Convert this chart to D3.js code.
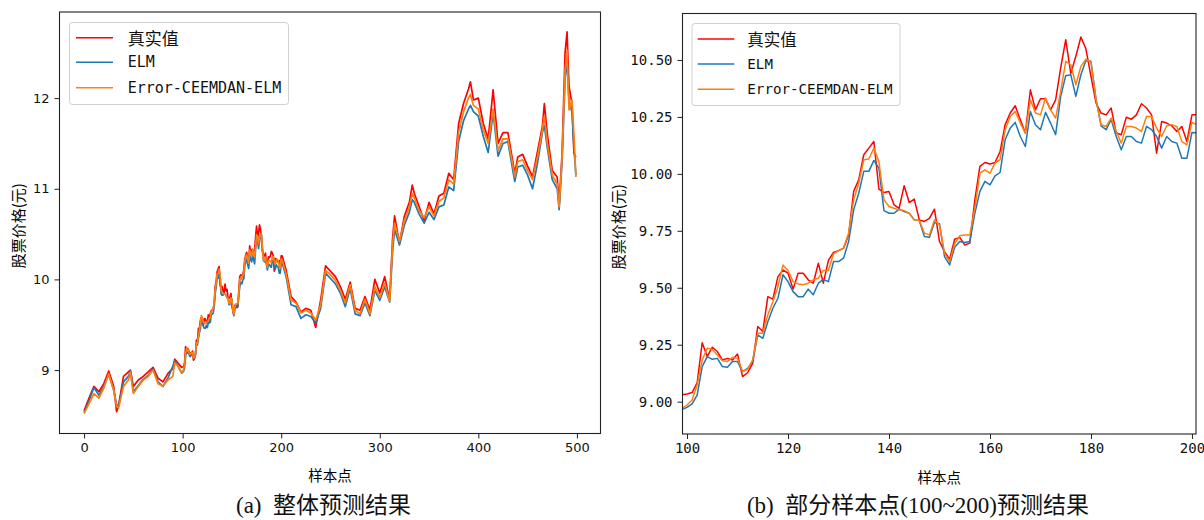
<!DOCTYPE html>
<html>
<head>
<meta charset="utf-8">
<script src="https://cdn.jsdelivr.net/npm/d3@7"></script>
<style>
  body { margin: 0; background: #fff; }
  svg text { white-space: pre; }
</style>
</head>
<body>
<div id="chart"></div>
<script>
// ---- data ----
var seriesNames = ["真实值", "ELM", "Error-CEEMDAN-ELM"];
var seriesColors = ["#ff0000", "#1f77b4", "#ff7f0e"];

// samples 0..95 (overall panel, coarse)
var headIdx = [0,5,10,15,20,25,30,33,35,40,45,47,50,55,60,65,70,75,80,85,90,92,95];
var realHead = [8.55,8.69,8.82,8.76,8.85,8.99,8.82,8.54,8.61,8.93,8.98,9.00,8.82,8.89,8.93,8.98,9.03,8.91,8.87,8.96,9.02,9.12,9.08];
var elmHead  = [8.53,8.66,8.81,8.72,8.82,8.95,8.78,8.62,8.60,8.87,8.93,8.99,8.76,8.83,8.90,8.94,9.01,8.87,8.82,8.91,9.04,9.10,9.05];
var errHead  = [8.52,8.63,8.74,8.69,8.80,8.96,8.78,8.60,8.58,8.82,8.89,8.98,8.74,8.82,8.89,8.93,9.00,8.85,8.82,8.89,8.93,9.08,9.05];

// samples 99..201 (zoomed panel, every point)
var partStart = 99;
var realPart = [9.030,9.034,9.040,9.083,9.259,9.198,9.239,9.220,9.183,9.190,9.183,9.209,9.110,9.127,9.168,9.330,9.308,9.461,9.450,9.549,
  9.578,9.564,9.494,9.564,9.564,9.535,9.520,9.608,9.520,9.620,9.655,9.663,9.674,9.732,9.923,9.974,10.084,10.113,10.142,9.933,
  9.918,9.923,9.864,9.849,9.948,9.874,9.889,9.798,9.791,9.805,9.845,9.703,9.659,9.625,9.713,9.721,9.688,9.696,9.886,10.033,
  10.050,10.043,10.050,10.098,10.216,10.267,10.299,10.238,10.179,10.369,10.281,10.330,10.330,10.281,10.325,10.465,10.589,10.440,10.516,10.601,
  10.548,10.428,10.311,10.267,10.259,10.289,10.179,10.172,10.249,10.240,10.259,10.308,10.289,10.259,10.091,10.230,10.223,10.211,10.186,10.208,
  10.142,10.259,10.259];
var elmPart = [8.965,8.975,8.990,9.029,9.154,9.198,9.186,9.190,9.154,9.151,9.176,9.176,9.132,9.146,9.176,9.293,9.278,9.351,9.410,9.454,
  9.557,9.527,9.483,9.461,9.461,9.494,9.469,9.520,9.537,9.527,9.615,9.615,9.630,9.703,9.842,9.915,10.011,10.011,10.059,10.025,
  9.839,9.827,9.827,9.845,9.835,9.827,9.798,9.795,9.725,9.722,9.786,9.781,9.637,9.600,9.678,9.703,9.699,9.703,9.827,9.923,
  9.967,9.952,9.991,10.006,10.150,10.201,10.226,10.164,10.120,10.274,10.216,10.194,10.270,10.223,10.172,10.340,10.431,10.435,10.340,10.435,
  10.498,10.494,10.328,10.211,10.194,10.238,10.164,10.106,10.164,10.164,10.142,10.135,10.208,10.194,10.164,10.113,10.164,10.142,10.135,10.069,
  10.069,10.182,10.180];
var errPart = [8.970,8.985,9.007,9.073,9.183,9.234,9.230,9.205,9.180,9.176,9.195,9.190,9.132,9.142,9.183,9.300,9.300,9.381,9.439,9.505,
  9.600,9.576,9.527,9.517,9.513,9.520,9.535,9.542,9.576,9.576,9.649,9.663,9.674,9.740,9.886,9.959,10.062,10.065,10.113,10.054,
  9.886,9.857,9.849,9.842,9.839,9.827,9.798,9.795,9.740,9.732,9.798,9.776,9.652,9.615,9.693,9.728,9.732,9.732,9.849,10.003,
  10.018,10.003,10.047,10.062,10.194,10.252,10.274,10.223,10.179,10.325,10.267,10.259,10.333,10.281,10.245,10.362,10.494,10.479,10.391,10.472,
  10.504,10.489,10.325,10.216,10.208,10.245,10.186,10.135,10.208,10.208,10.201,10.186,10.252,10.252,10.201,10.164,10.211,10.216,10.208,10.142,
  10.127,10.226,10.215];

// samples 205..499 (overall panel, coarse)
var tailIdx = [205,210,215,220,225,230,235,240,245,250,255,260,265,270,275,280,285,290,295,300,305,310,313,315,320,325,330,333,335,340,
  345,350,355,360,365,370,375,380,385,390,392,395,400,405,410,415,420,425,430,435,437,440,445,450,455,460,465,467,470,475,
  480,482,485,488,490,492,495,497,499];
var realTail = [10.10,9.81,9.75,9.64,9.68,9.66,9.47,9.77,10.15,10.09,10.03,9.92,9.78,9.97,9.68,9.66,9.81,9.66,10.00,9.85,10.03,9.77,10.45,10.70,10.40,10.70,10.85,11.04,10.95,10.80,
  10.65,10.85,10.72,10.92,10.95,11.17,11.10,11.72,11.94,12.10,12.18,11.98,12.00,11.72,11.55,12.09,11.50,11.62,11.62,11.30,11.17,11.35,11.38,11.25,11.13,11.41,11.69,11.94,11.60,11.20,
  11.13,10.82,11.40,12.50,12.73,12.13,11.94,11.39,11.35];
var elmTail = [10.03,9.72,9.70,9.57,9.61,9.59,9.52,9.68,10.07,10.01,9.95,9.85,9.70,9.90,9.62,9.60,9.74,9.60,9.88,9.77,9.92,9.75,10.30,10.55,10.38,10.60,10.74,10.88,10.85,10.72,
  10.62,10.74,10.66,10.80,10.82,11.02,10.98,11.52,11.75,11.88,11.92,11.85,11.80,11.58,11.40,11.84,11.36,11.50,11.52,11.20,11.08,11.24,11.26,11.15,11.00,11.28,11.62,11.70,11.45,11.10,
  11.00,10.77,11.30,12.20,12.42,11.95,11.85,11.45,11.15];
var errTail = [10.06,9.77,9.74,9.63,9.66,9.63,9.55,9.72,10.10,10.05,9.99,9.88,9.74,9.94,9.66,9.62,9.78,9.62,9.92,9.80,9.96,9.76,10.38,10.62,10.42,10.65,10.80,10.95,10.90,10.76,
  10.68,10.80,10.70,10.86,10.90,11.10,11.05,11.62,11.85,12.00,12.04,11.92,11.88,11.65,11.50,11.88,11.42,11.55,11.55,11.26,11.13,11.30,11.32,11.20,11.10,11.35,11.65,11.80,11.50,11.15,
  11.05,10.80,11.35,12.30,12.53,11.87,11.98,11.60,11.13];

var leftXTicks = [0, 100, 200, 300, 400, 500];
var leftYTicks = [9, 10, 11, 12];
var rightXTicks = [100, 120, 140, 160, 180, 200];
var rightYTicks = [9.00, 9.25, 9.50, 9.75, 10.00, 10.25, 10.50];

var captionA = "(a)  整体预测结果";
var captionB = "(b)  部分样本点(100~200)预测结果";

// ---- build point lists ----
function pts(idx, vals) {
    return idx.map(function(d, i) { return [d, vals[i]]; });
}
var partIdx = realPart.map(function(d, i) { return partStart + i; });

var fullSeries = [
    pts(headIdx, realHead).concat(pts(partIdx, realPart), pts(tailIdx, realTail)),
    pts(headIdx, elmHead).concat(pts(partIdx, elmPart), pts(tailIdx, elmTail)),
    pts(headIdx, errHead).concat(pts(partIdx, errPart), pts(tailIdx, errTail))
];
var partSeries = [pts(partIdx, realPart), pts(partIdx, elmPart), pts(partIdx, errPart)];

var svg = d3.select("#chart")
            .append("svg")
                .attr("width", 1204)
                .attr("height", 520);

function panel(o) {
    var g = svg.append("g");
    var x = d3.scaleLinear().domain(o.xDomain).range([o.left, o.right]);
    var y = d3.scaleLinear().domain(o.yDomain).range([o.bottom, o.top]);

    g.append("clipPath").attr("id", o.id)
        .append("rect")
            .attr("x", o.left).attr("y", o.top)
            .attr("width", o.right - o.left).attr("height", o.bottom - o.top);

    var line = d3.line().x(function(d) { return x(d[0]); }).y(function(d) { return y(d[1]); });

    g.append("g").attr("clip-path", "url(#" + o.id + ")")
        .selectAll("path")
        .data(o.series)
        .join("path")
            .attr("d", line)
            .attr("fill", "none")
            .attr("stroke", function(d, i) { return seriesColors[i]; })
            .attr("stroke-width", o.lineWidth)
            .attr("stroke-linejoin", "round");

    // axes
    var xa = g.append("g")
        .attr("transform", "translate(0," + o.bottom + ")")
        .call(d3.axisBottom(x).tickValues(o.xTicks).tickSize(5).tickSizeOuter(0).tickPadding(4).tickFormat(d3.format("d")));
    var ya = g.append("g")
        .attr("transform", "translate(" + o.left + ",0)")
        .call(d3.axisLeft(y).tickValues(o.yTicks).tickSize(5).tickSizeOuter(0).tickPadding(5).tickFormat(o.yFormat));
    [xa, ya].forEach(function(a) {
        a.select(".domain").remove();
        a.selectAll("line").attr("stroke", "#222").attr("stroke-width", 1);
        a.selectAll("text")
            .attr("fill", "#111")
            .style("font-family", o.tickFont)
            .style("font-size", o.tickSize + "px");
    });

    g.append("rect")
        .attr("x", o.left).attr("y", o.top)
        .attr("width", o.right - o.left).attr("height", o.bottom - o.top)
        .attr("fill", "none").attr("stroke", "#222").attr("stroke-width", 1.1);

    // axis titles
    g.append("text")
        .attr("x", (o.left + o.right) / 2).attr("y", o.xLabelY)
        .attr("text-anchor", "middle").attr("dominant-baseline", "central")
        .style("font-family", "'Noto Sans CJK SC', sans-serif").style("font-size", "14.5px")
        .text("样本点");
    g.append("text")
        .attr("transform", "translate(" + o.yLabelX + "," + ((o.top + o.bottom) / 2 + 3) + ") rotate(-90)")
        .attr("text-anchor", "middle").attr("dominant-baseline", "central")
        .style("font-family", "'Noto Sans CJK SC', sans-serif").style("font-size", "15px")
        .text("股票价格(元)");

    // legend
    var L = o.legend;
    var lg = g.append("g");
    lg.append("rect")
        .attr("x", L.x).attr("y", L.y).attr("width", L.w).attr("height", L.h)
        .attr("rx", 3).attr("fill", "#fff").attr("fill-opacity", 0.8)
        .attr("stroke", "#d0d0d0").attr("stroke-width", 1);
    seriesNames.forEach(function(name, i) {
        var ry = L.rows[i];
        lg.append("line")
            .attr("x1", L.lineX[0]).attr("x2", L.lineX[1])
            .attr("y1", ry).attr("y2", ry)
            .attr("stroke", seriesColors[i]).attr("stroke-width", 1.5);
        lg.append("text")
            .attr("x", L.textX).attr("y", ry)
            .attr("dominant-baseline", "central")
            .attr("fill", "#111")
            .style("font-family", i == 0 ? "'Noto Sans CJK SC', sans-serif" : "'DejaVu Sans Mono', monospace")
            .style("font-size", (i == 0 ? L.cjkSize : L.monoSize) + "px")
            .text(name);
    });

    svg.append("text")
        .attr("x", o.captionX).attr("y", 513)
        .attr("text-anchor", "middle")
        .attr("fill", "#111")
        .style("font-family", "'Liberation Serif', 'Times New Roman', 'Noto Sans CJK SC', serif")
        .style("font-size", "23px")
        .text(o.caption);
}

panel({
    id: "clipA", left: 59.5, right: 600.5, top: 12, bottom: 433.5,
    xDomain: [-24.95, 523.95], yDomain: [8.30, 12.95],
    xTicks: leftXTicks, yTicks: leftYTicks, yFormat: d3.format("d"),
    tickFont: "'DejaVu Sans', sans-serif", tickSize: 13,
    series: fullSeries, lineWidth: 1.7,
    xLabelY: 474, yLabelX: 17,
    legend: { x: 69.5, y: 22.5, w: 219, h: 82, rows: [37.7, 62.3, 87.7], lineX: [76, 113], textX: 127.7, cjkSize: 17, monoSize: 15 },
    caption: captionA, captionX: 323.5
});

panel({
    id: "clipB", left: 682.5, right: 1196, top: 13.5, bottom: 434,
    xDomain: [99.1, 200.8], yDomain: [8.858, 10.704],
    xTicks: rightXTicks, yTicks: rightYTicks, yFormat: d3.format(".2f"),
    tickFont: "'DejaVu Sans Mono', monospace", tickSize: 14,
    series: partSeries, lineWidth: 1.5,
    xLabelY: 476.5, yLabelX: 617.5,
    legend: { x: 692, y: 23.5, w: 208, h: 82, rows: [39, 64, 89.3], lineX: [697.7, 734.3], textX: 747.3, cjkSize: 16.5, monoSize: 14.2 },
    caption: captionB, captionX: 918
});
</script>
</body>
</html>
